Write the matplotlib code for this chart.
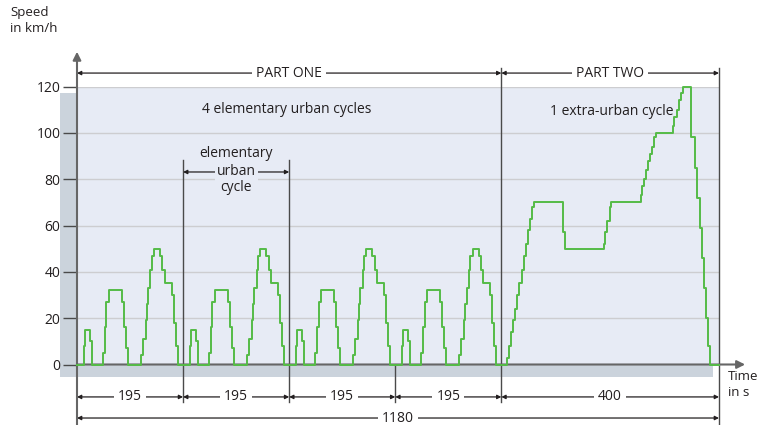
import matplotlib.pyplot as plt
from matplotlib.patches import Rectangle

plt.rcParams['font.family'] = ['Open Sans', 'DejaVu Sans']

# one elementary urban cycle: time (s from cycle start) and speed (km/h), stepped
urban_t = [0, 12, 15, 23, 27, 48, 51, 54, 58, 83, 86, 90, 94,
           117, 121, 126, 128, 131, 135, 138, 142, 153, 157, 161,
           174, 178, 182, 186, 195]
urban_v = [0, 8, 15, 10, 0, 5, 16, 27, 32, 27, 16, 7, 0,
           4, 11, 19, 26, 33, 41, 47, 50, 47, 41, 35,
           30, 18, 8, 0, 0]
cycle_starts = [0, 195, 390, 585]

# extra-urban cycle: time (s from its start) and speed (km/h), stepped
eudc_start = 780
eudc_t = [0, 11, 14, 18, 22, 25, 29, 33, 37, 42, 45, 49, 53, 56, 60,
          114, 117, 189, 191, 195, 199, 202,
          256, 259, 262, 266, 270, 273, 277, 281, 285,
          315, 318, 322, 326, 330, 333,
          349, 356, 360, 365, 368, 373, 376, 380, 383, 400]
eudc_v = [0, 3, 8, 14, 19, 24, 30, 35, 41, 47, 52, 58, 63, 68, 70,
          57, 50, 52, 57, 62, 68, 70,
          73, 77, 80, 84, 88, 91, 94, 98, 100,
          103, 107, 110, 114, 117, 120,
          98, 85, 72, 59, 46, 33, 20, 8, 0, 0]

section_bounds = [0, 195, 390, 585, 780, 1180]
section_labels = ['195', '195', '195', '195', '400']
yticks = [0, 20, 40, 60, 80, 100, 120]

time = []
speed = []
for s in cycle_starts:
    time += [s + x for x in urban_t]
    speed += urban_v
time += [eudc_start + x for x in eudc_t]
speed += eudc_v

W, H = 758, 425
dark = '#4a4a4a'
txt = '#231f20'
panel = '#e7ebf5'
green = '#55bb47'
fs = 10

fig = plt.figure(figsize=(W / 100, H / 100), dpi=100)

# drop shadow behind the panel
fig.add_artist(Rectangle((60 / W, 1 - 377 / H), 653 / W, 284 / H,
                         transform=fig.transFigure, color='#cbd3dc',
                         lw=0, zorder=-1))

ax = fig.add_axes([77 / W, 1 - 364.5 / H, 642 / W, 278 / H])
ax.set_xlim(0, 1180)
ax.set_ylim(0, 120)
ax.set_facecolor(panel)
for sp in ax.spines.values():
    sp.set_visible(False)
ax.set_xticks([])
ax.set_yticks(yticks)
ax.tick_params(axis='y', length=10, width=1, color=dark, labelsize=fs,
               labelcolor=txt, pad=2)
ax.yaxis.grid(True, color='#cdcdd0', lw=1)
ax.set_axisbelow(True)

arrow_kw = dict(arrowstyle='<|-|>', color=txt, lw=0.9, mutation_scale=6,
                shrinkA=0, shrinkB=0)


def dim(x0, x1, y, label, bg, pad=3):
    ax.annotate('', xy=(x1, y), xytext=(x0, y), arrowprops=arrow_kw,
                annotation_clip=False)
    ax.text((x0 + x1) / 2, y, label, ha='center', va='center', fontsize=fs,
            color=txt, clip_on=False,
            bbox=dict(fc=bg, ec='none', pad=pad))


def vline(x, y0, y1):
    ax.plot([x, x], [y0, y1], color=dark, lw=1, clip_on=False, zorder=3)


# axes with arrows
ax.annotate('', xy=(0, 135), xytext=(0, -26.5),
            arrowprops=dict(arrowstyle='-|>', color='#666666', lw=1.5,
                            mutation_scale=12, shrinkA=0, shrinkB=0),
            annotation_clip=False, zorder=4)
ax.annotate('', xy=(1228, 0), xytext=(0, 0),
            arrowprops=dict(arrowstyle='-|>', color='#666666', lw=1.5,
                            mutation_scale=12, shrinkA=0, shrinkB=0),
            annotation_clip=False, zorder=4)

# section boundaries
vline(195, 88.3, -16.2)
vline(390, 88.3, -16.2)
vline(585, 0, -16.2)
vline(780, 128, -16.2)
vline(1180, 128, -26.5)

# speed trace
ax.plot(time, speed, drawstyle='steps-post', color=green, lw=1.4, zorder=5,
        clip_on=False)

# top annotations
dim(0, 780, 125.8, 'PART ONE', 'white')
dim(780, 1180, 125.8, 'PART TWO', 'white')
ax.text(386, 110, '4 elementary urban cycles', ha='center', va='center',
        fontsize=fs, color=txt)
ax.text(982, 109.4, '1 extra-urban cycle', ha='center', va='center',
        fontsize=fs, color=txt)
ax.text(292, 90.9, 'elementary', ha='center', va='center', fontsize=fs,
        color=txt)
dim(195, 390, 83.1, 'urban', panel, pad=1.5)
ax.text(292, 76.3, 'cycle', ha='center', va='center', fontsize=fs, color=txt)

# bottom dimensions
for a, b, lab in zip(section_bounds[:-1], section_bounds[1:], section_labels):
    dim(a, b, -14.0, lab, 'white')
dim(0, 1180, -23.1, '1180', 'white')

fig.text(10 / W, 1 - 6 / H, 'Speed\nin km/h', ha='left', va='top',
         fontsize=9.5, color=txt, linespacing=1.25)
fig.text(728 / W, 1 - 370 / H, 'Time\nin s', ha='left', va='top',
         fontsize=9.5, color=txt, linespacing=1.25)

fig.savefig('out.png', dpi=100)
